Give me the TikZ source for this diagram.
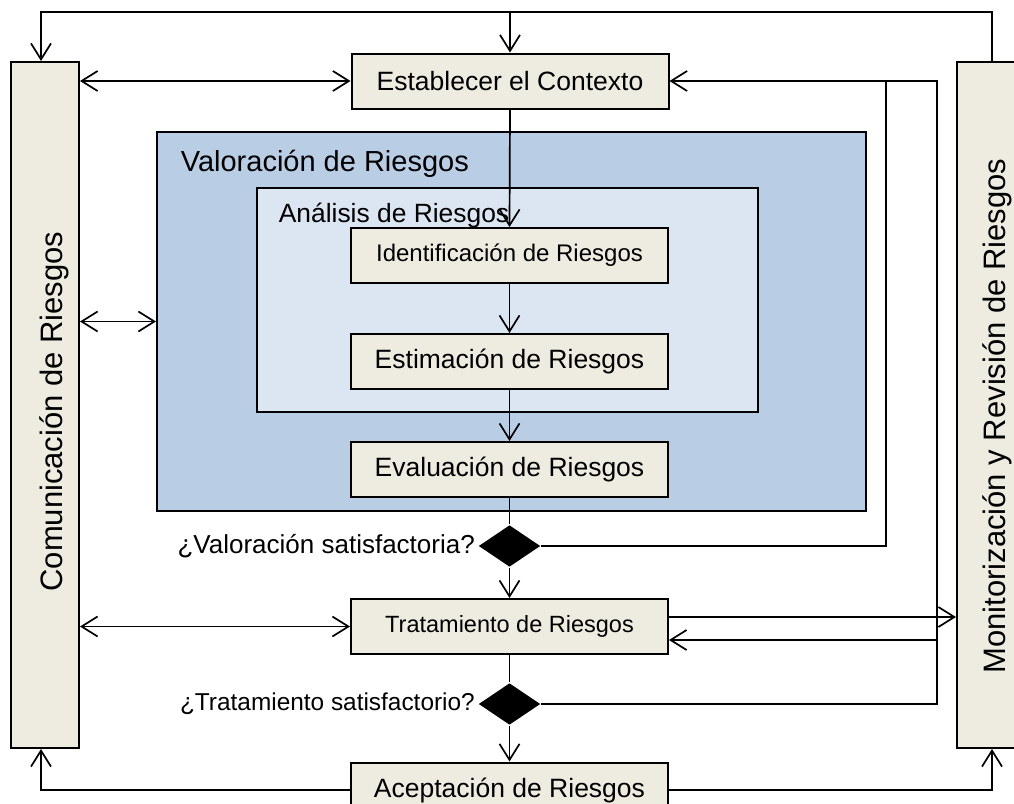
\documentclass[tikz,border=0pt]{standalone}
\usepackage{fontspec}
\setmainfont{Liberation Sans}
\usepackage{xcolor}
\usetikzlibrary{arrows.meta,shapes.geometric,positioning,calc}
\definecolor{tanbg}{RGB}{238,236,225}
\definecolor{valblue}{RGB}{185,205,229}
\definecolor{analblue}{RGB}{220,230,242}

\begin{document}
\begin{tikzpicture}[x = 1pt, y = -1pt,
  >={Straight Barb[length=16pt,width=20pt]},
  line width=1.7pt,
  stepbox/.style={draw, line width=2pt, fill=tanbg, minimum width=317pt,
    minimum height=55pt, inner sep=0pt, font=\fontsize{26.5}{30}\selectfont},
  sidebox/.style={draw, line width=2pt, fill=tanbg, minimum width=68pt,
    minimum height=686pt},
  sidetext/.style={rotate=90, anchor=base, inner sep=0pt, font=\fontsize{31}{34}\selectfont},
  decision/.style={diamond, fill=black, minimum width=62pt, minimum height=42pt, inner sep=0pt},
  zone/.style={draw, line width=2pt}]
\useasboundingbox (0,0) rectangle (1014,803);
\clip (0,0) rectangle (1014,803);

\node[zone, fill=valblue, minimum width=709pt, minimum height=379pt] (val) at (511.5, 321.5) {};
\node[anchor=base west, inner sep=0pt, font=\fontsize{29}{32}\selectfont] (valtxt) at (180, 171) {Valoración de Riesgos};
\node[zone, fill=analblue, minimum width=501pt, minimum height=224pt] (anal) at (507.5, 300) {};
\node[anchor=base west, inner sep=0pt, font=\fontsize{26.4}{30}\selectfont] (analtxt) at (278, 222) {Análisis de Riesgos};

\node[sidebox] (com) at (45, 405) {};
\node[sidetext] (comtxt) at (62, 411.5) {Comunicación de Riesgos};
\node[sidebox] (mon) at (991, 405) {};
\node[sidetext] (montxt) at (1005, 416) {Monitorización y Revisión de Riesgos};

\node[stepbox] (est) at (510, 81) {Establecer el Contexto};
\node[stepbox, font=\fontsize{24}{28}\selectfont] (ident) at (509.5, 255.5) {Identificación de Riesgos};
\node[stepbox] (estim) at (509.5, 361.5) {Estimación de Riesgos};
\node[stepbox] (eval) at (509.5, 469.5) {Evaluación de Riesgos};
\node[decision] (d1) at (509.5, 546) {};
\node[anchor=east, inner sep=2pt, font=\fontsize{26}{30}\selectfont] (q1) at (d1.west) {¿Valoración satisfactoria?};
\node[stepbox, font=\fontsize{23.5}{27}\selectfont] (trat) at (509.5, 626.5) {Tratamiento de Riesgos};
\node[decision] (d2) at (509.5, 704) {};
\node[anchor=east, inner sep=2pt, font=\fontsize{24.4}{28}\selectfont] (q2) at (d2.west) {¿Tratamiento satisfactorio?};
\node[stepbox] (acep) at (509.5, 790) {Aceptación de Riesgos};

\coordinate (tl) at (41, 12);
\coordinate (tr) at (992, 12);
\coordinate (r1) at (886, 81);
\coordinate (r2) at (937, 81);

% monitoring loop on top
\draw[->] (mon.north -| tr) -- (tr) -- (tl) -- (com.north -| tl);
\draw[->] (est.north |- tl) -- (est.north);

% communication
\draw[<->] (com.east |- est.west) -- (est.west);
\draw[<->] (com.east |- val.west) -- (val.west);
\draw[<->] (com.east |- trat.west) -- (trat.west);

% main flow
\draw[->] (est.south) -- (ident.north);
\draw[->] (ident.south) -- (estim.north);
\draw[->] (estim.south) -- (eval.north);
\draw (eval.south) -- (d1.north);
\draw[->] (d1.south) -- (trat.north);
\draw (trat.south) -- (d2.north);
\draw[->] (d2.south) -- (acep.north);

% back to context
\draw (d1.east) -| (r1);
\draw[->] (d2.east) -| (r2) -- (est.east);
\draw[->] ([yshift=9.5pt]trat.east) -- ([yshift=9.5pt]trat.east -| mon.west);
\draw[->] ([yshift=-13.5pt]trat.east -| r2) -- ([yshift=-13.5pt]trat.east);

% acceptance
\draw[->] (acep.west) -| (com.south -| tl);
\draw[->] (acep.east) -| (mon.south -| tr);

\end{tikzpicture}
\end{document}
